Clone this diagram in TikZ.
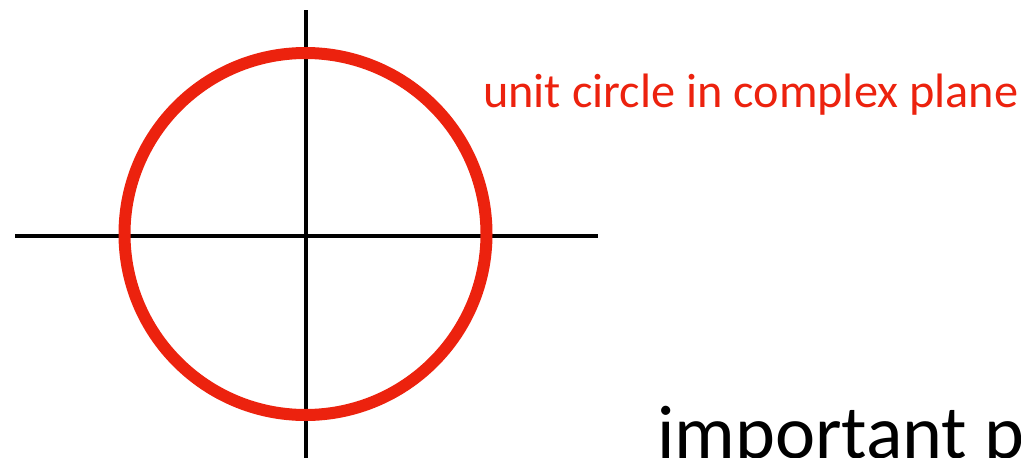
\documentclass[tikz,border=0pt]{standalone}
\usepackage{fontspec}
\setmainfont{Carlito}
\usepackage{xcolor}
\usetikzlibrary{positioning}
\definecolor{inkK}{HTML}{000000}
\definecolor{cRed}{HTML}{EC220E}

\begin{document}
\begin{tikzpicture}[x=1pt, y=1pt,
    axisline/.style={draw=inkK, line width=4.2pt},
    unitring/.style={draw=cRed, line width=12pt},
    redlabel/.style={font=\fontsize{48.3}{52}\selectfont, text=cRed, inner sep=0pt, anchor=base west},
    biglabel/.style={font=\fontsize{76}{82}\selectfont, text=inkK, inner sep=0pt, anchor=base west}]
  \useasboundingbox (0,0) rectangle (1021,-458);

  % axes
  \coordinate (origin) at (306,-236);
  \coordinate (xleft) at (15,-236);
  \coordinate (xright) at (598,-236);
  \coordinate (ytop) at (306,-10);
  \coordinate (ybot) at (306,-470);
  \draw[axisline] (xleft) -- (xright);
  \draw[axisline] (ytop) -- (ybot);

  % unit circle
  \draw[unitring] (305.5,-234) circle[radius=181];

  % labels
  \node[redlabel] (circlelbl) at (483,-107) {unit circle in complex plane};
  \node[biglabel] (bottomlbl) at (657,-458) {important p};
\end{tikzpicture}
\end{document}
